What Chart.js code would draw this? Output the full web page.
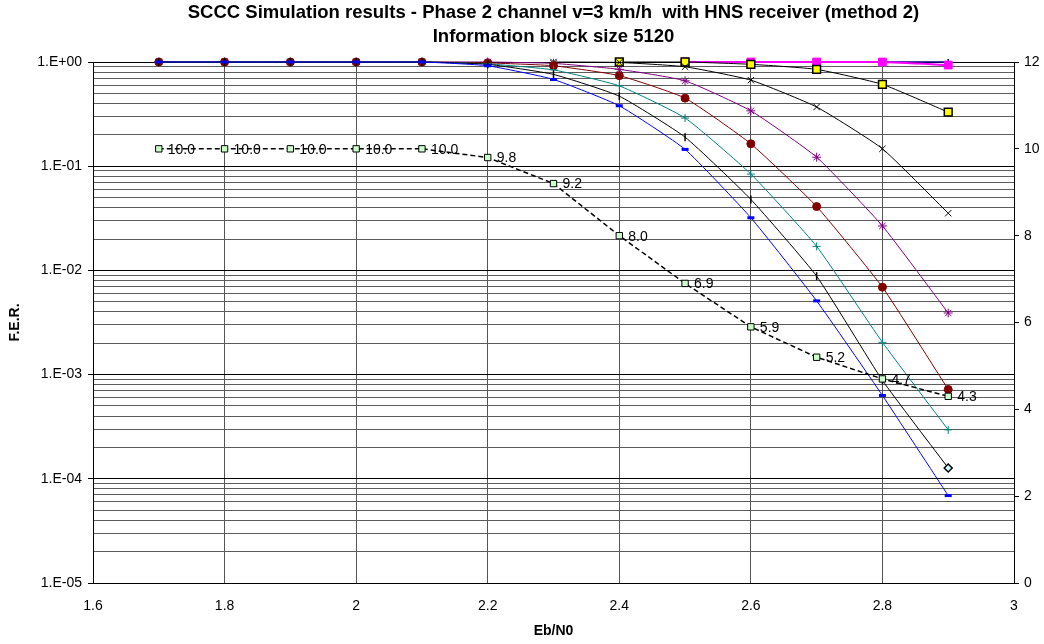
<!DOCTYPE html>
<html>
<head>
<meta charset="utf-8">
<script src="https://cdn.jsdelivr.net/npm/chart.js@4.4.1/dist/chart.umd.min.js"></script>
<style>
  html, body { margin: 0; padding: 0; background: #fff; }
</style>
</head>
<body>
<canvas id="myChart" width="1044" height="644"></canvas>
<script>
// Eb/N0 points (x axis)
const ebn0 = [1.7, 1.8, 1.9, 2.0, 2.1, 2.2, 2.3, 2.4, 2.5, 2.6, 2.7, 2.8, 2.9];

// F.E.R. curves (left log axis)
const ferBlue    = [1, 1, 1, 1, 1, 0.92, 0.68, 0.38, 0.145, 0.032, 0.0051, 0.00063, 0.000069];
const ferBlack   = [1, 1, 1, 1, 1, 0.95, 0.76, 0.47, 0.19, 0.048, 0.0088, 0.00088, 0.000127];
const ferTeal    = [1, 1, 1, 1, 1, 0.96, 0.84, 0.59, 0.29, 0.084, 0.017, 0.00204, 0.000295];
const ferRed     = [1, 1, 1, 1, 1, 0.98, 0.92, 0.74, 0.45, 0.164, 0.041, 0.0069, 0.00072];
const ferPurple  = [1, 1, 1, 1, 1, 1, 0.97, 0.85, 0.66, 0.34, 0.122, 0.0267, 0.0039];
const ferCross   = [null, null, null, null, null, null, 1, 0.99, 0.90, 0.67, 0.37, 0.147, 0.0354];
const ferYellow  = [null, null, null, null, null, null, null, 1, 1, 0.95, 0.85, 0.61, 0.33];
const ferMagenta = [null, null, null, null, null, null, null, null, 1, 1, 1, 1, 0.935];
const ferNavy    = [null, null, null, null, null, null, null, null, null, null, null, 1, 1];

// dashed curve on the right axis
const ratio = [10.0, 10.0, 10.0, 10.0, 10.0, 9.8, 9.2, 8.0, 6.9, 5.9, 5.2, 4.7, 4.3];

const xTicks = [1.6, 1.8, 2.0, 2.2, 2.4, 2.6, 2.8, 3.0];
const titleLines = ['SCCC Simulation results - Phase 2 channel v=3 km/h  with HNS receiver (method 2)',
                    'Information block size 5120'];

const FONT = "'Liberation Sans', Arial, sans-serif";
Chart.defaults.font.family = FONT;
Chart.defaults.color = '#000';

function pts(vals) {
    return vals.map((v, i) => ({x: ebn0[i], y: v}));
}
function isDecade(v) {
    const l = Math.log10(v);
    return Math.abs(l - Math.round(l)) < 1e-9;
}

// black curve: vertical dash markers, diamond on the last point
const blackStyle = ferBlack.map((v, i) => i === ferBlack.length - 1 ? 'rectRot' : 'line');
const blackRot = ferBlack.map((v, i) => i === ferBlack.length - 1 ? 0 : 90);
const blackFill = ferBlack.map((v, i) => i === ferBlack.length - 1 ? '#ccffff' : '#000');

// value labels next to the dashed curve
const ratioLabels = {
    id: 'ratioLabels',
    afterDatasetsDraw(chart) {
        const meta = chart.getDatasetMeta(0);
        const c = chart.ctx;
        c.save();
        c.font = '14px ' + FONT;
        c.fillStyle = '#000';
        c.textBaseline = 'middle';
        meta.data.forEach((p, i) => {
            c.fillText(ratio[i].toFixed(1), p.x + 9, p.y + 1);
        });
        c.restore();
    }
};

const ctx = document.getElementById('myChart');

var chart = new Chart(ctx, {
    type: 'line',
    data: {
        datasets: [
            {
                data: pts(ratio), yAxisID: 'y2',
                borderColor: '#000', borderWidth: 1.5, borderDash: [5, 3],
                pointStyle: 'rect', pointRadius: 4.5,
                pointBackgroundColor: '#ccffcc', pointBorderColor: '#000', pointBorderWidth: 1,
                tension: 0
            },
            {
                data: pts(ferBlue), borderColor: '#0000ff', borderWidth: 1,
                pointStyle: 'line', pointRadius: 3.5, pointBorderWidth: 3,
                pointBorderColor: '#0000ff', pointBackgroundColor: '#0000ff'
            },
            {
                data: pts(ferBlack), borderColor: '#000', borderWidth: 1,
                pointStyle: blackStyle, pointRotation: blackRot, pointRadius: 4,
                pointBorderWidth: 1.5, pointBorderColor: '#000', pointBackgroundColor: blackFill
            },
            {
                data: pts(ferTeal), borderColor: '#008080', borderWidth: 1,
                pointStyle: 'cross', pointRadius: 4, pointBorderWidth: 1,
                pointBorderColor: '#008080'
            },
            {
                data: pts(ferRed), borderColor: '#800000', borderWidth: 1,
                pointStyle: 'circle', pointRadius: 4, pointBorderWidth: 1,
                pointBorderColor: '#800000', pointBackgroundColor: '#800000'
            },
            {
                data: pts(ferPurple), borderColor: '#800080', borderWidth: 1,
                pointStyle: 'star', pointRadius: 4.5, pointBorderWidth: 1,
                pointBorderColor: '#800080'
            },
            {
                data: pts(ferCross), borderColor: '#000', borderWidth: 1,
                pointStyle: 'crossRot', pointRadius: 4.5, pointBorderWidth: 1,
                pointBorderColor: '#000'
            },
            {
                data: pts(ferYellow), borderColor: '#000', borderWidth: 1,
                pointStyle: 'rect', pointRadius: 5.5, pointBorderWidth: 1.5,
                pointBorderColor: '#000', pointBackgroundColor: '#ffff00'
            },
            {
                data: pts(ferMagenta), borderColor: '#ff00ff', borderWidth: 2,
                pointStyle: 'rect', pointRadius: 5.5, pointBorderWidth: 1,
                pointBorderColor: '#ff00ff', pointBackgroundColor: '#ff00ff'
            },
            {
                data: pts(ferNavy), borderColor: '#000080', borderWidth: 1.5,
                pointStyle: 'line', pointRotation: 90, pointRadius: 3, pointBorderWidth: 1.5,
                pointBorderColor: '#000080'
            }
        ]
    },
    options: {
        responsive: false,
        animation: false,
        events: [],
        layout: {padding: 0},
        datasets: {line: {clip: false, tension: 0.15, spanGaps: false}},
        plugins: {legend: {display: false}, tooltip: {enabled: false}, title: {display: false}},
        scales: {
            x: {
                type: 'linear', position: 'bottom', min: 1.6, max: 3,
                afterBuildTicks: (s) => { s.ticks = xTicks.map(v => ({value: v})); },
                ticks: {callback: (v) => String(+v.toFixed(1)), font: {size: 14}, padding: 15, autoSkip: false, maxRotation: 0},
                grid: {color: '#555', drawTicks: false},
                border: {color: '#000'},
                title: {display: true, text: 'Eb/N0', font: {size: 14, weight: 'bold'}, padding: {top: 0, bottom: 4.5}},
                afterFit: (s) => { s.height = 61; }
            },
            xTop: {
                type: 'linear', position: 'top', min: 1.6, max: 3, display: true,
                ticks: {display: false},
                grid: {display: false},
                border: {display: false},
                title: {display: true, text: titleLines, font: {size: 18.5, weight: 'bold', lineHeight: 1.3}, padding: {top: 1, bottom: 0}},
                afterFit: (s) => { s.height = 62; }
            },
            y: {
                type: 'logarithmic', position: 'left', min: 1e-5, max: 1,
                afterBuildTicks: (s) => {
                    const t = [];
                    for (let e = -5; e <= 0; e++) {
                        for (let m = 1; m <= 9; m++) {
                            if (e === 0 && m > 1) break;
                            t.push({value: m * Math.pow(10, e)});
                        }
                    }
                    s.ticks = t;
                },
                ticks: {
                    autoSkip: false, font: {size: 14}, padding: 6,
                    callback: (v) => {
                        if (!isDecade(v)) return '';
                        const e = Math.round(Math.log10(v));
                        return '1.E' + (e < 0 ? '-' : '+') + String(Math.abs(e)).padStart(2, '0');
                    }
                },
                grid: {
                    tickLength: 5,
                    color: (c) => isDecade(c.tick.value) ? '#000' : '#5c5c5c',
                    tickColor: (c) => isDecade(c.tick.value) ? '#000' : 'rgba(0,0,0,0)'
                },
                border: {color: '#000'},
                title: {display: true, text: 'F.E.R.', font: {size: 14, weight: 'bold'}, padding: {top: 7, bottom: 0}},
                afterFit: (s) => { s.width = 93; }
            },
            y2: {
                type: 'linear', position: 'right', min: 0, max: 12,
                ticks: {stepSize: 2, font: {size: 14}, padding: 5},
                grid: {drawOnChartArea: false, tickLength: 5, color: '#000'},
                border: {color: '#000'},
                afterFit: (s) => { s.width = 30; }
            }
        }
    },
    plugins: [ratioLabels]
});
</script>
</body>
</html>
